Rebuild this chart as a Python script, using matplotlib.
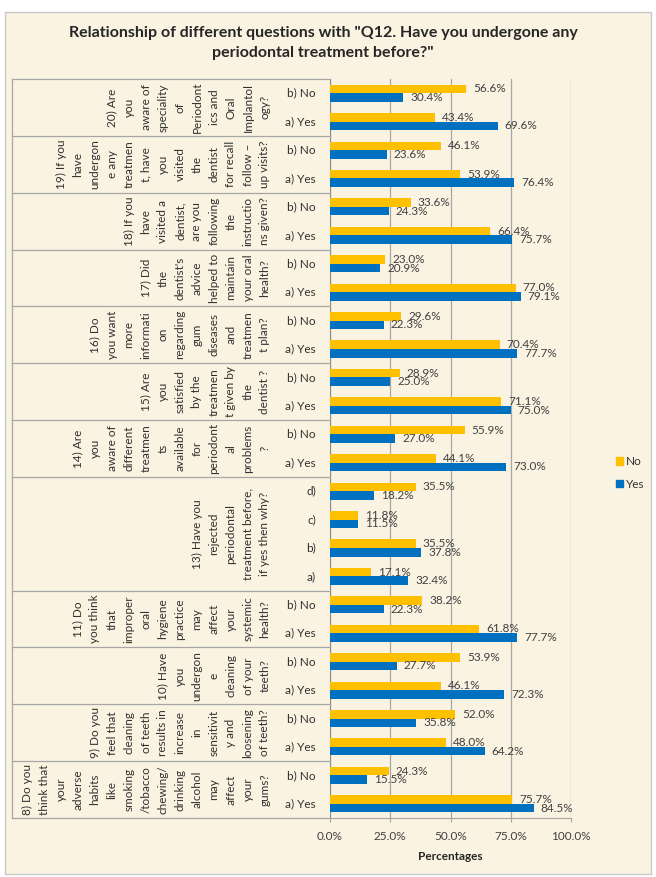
import matplotlib
matplotlib.use('Agg')
import matplotlib.pyplot as plt
from matplotlib.transforms import blended_transform_factory
from matplotlib.patches import Rectangle, Patch
from matplotlib.lines import Line2D
import numpy as np

plt.rcParams['font.family'] = ['Lato', 'DejaVu Sans']

W, H = 656, 877

# question labels, top to bottom, wrapped as in the chart
group_lines = [
    ["20) Are", "you", "aware of", "speciality", "of", "Periodont", "ics and", "Oral", "Implantol", "ogy?"],
    ["19) If you", "have", "undergon", "e any", "treatmen", "t, have", "you", "visited", "the", "dentist",
     "for recall", "follow \u2013", "up visits?"],
    ["18) If you", "have", "visited a", "dentist,", "are you", "following", "the", "instructio", "ns given?"],
    ["17) Did", "the", "dentist's", "advice", "helped to", "maintain", "your oral", "health?"],
    ["16) Do", "you want", "more", "informati", "on", "regarding", "gum", "diseases", "and", "treatmen", "t plan?"],
    ["15) Are", "you", "satisfied", "by the", "treatmen", "t given by", "the", "dentist ?"],
    ["14) Are", "you", "aware of", "different", "treatmen", "ts", "available", "for", "periodont", "al",
     "problems", "?"],
    ["13) Have you", "rejected", "periodontal", "treatment before,", "if yes then why?"],
    ["11) Do", "you think", "that", "improper", "oral", "hygiene", "practice", "may", "affect", "your",
     "systemic", "health?"],
    ["10) Have", "you", "undergon", "e", "cleaning", "of your", "teeth?"],
    ["9) Do you", "feel that", "cleaning", "of teeth", "results in", "increase", "in", "sensitivit", "y and",
     "loosening", "of teeth?"],
    ["8) Do you", "think that", "your", "adverse", "habits", "like", "smoking", "/tobacco", "chewing/",
     "drinking", "alcohol", "may", "affect", "your", "gums?"],
]
group_sizes = [2, 2, 2, 2, 2, 2, 2, 4, 2, 2, 2, 2]

subcats = ["b) No", "a) Yes"] * 7 + ["d)", "c)", "b)", "a)"] + ["b) No", "a) Yes"] * 4

no_pct = [56.6, 43.4, 46.1, 53.9, 33.6, 66.4, 23.0, 77.0, 29.6, 70.4, 28.9, 71.1, 55.9, 44.1,
          35.5, 11.8, 35.5, 17.1, 38.2, 61.8, 53.9, 46.1, 52.0, 48.0, 24.3, 75.7]
yes_pct = [30.4, 69.6, 23.6, 76.4, 24.3, 75.7, 20.9, 79.1, 22.3, 77.7, 25.0, 75.0, 27.0, 73.0,
           18.2, 11.5, 37.8, 32.4, 22.3, 77.7, 27.7, 72.3, 35.8, 64.2, 15.5, 84.5]

x_ticks = [0, 25, 50, 75, 100]

C_NO = '#FFC000'
C_YES = '#0070C0'
GRID = '#a6a6a6'
TXT = '#404040'
TBL = '#303030'


def fx(px):
    return px / W


def fy(py):
    return 1 - py / H


fig = plt.figure(figsize=(W / 100, H / 100), dpi=100, facecolor='white')

# chart area background (kept behind the axes)
fig.patches.append(Rectangle((fx(5), fy(874)), fx(646), 862 / H, transform=fig.transFigure,
                             facecolor='#faf3e2', edgecolor='#c8c8c8', lw=1, zorder=-10))

ax = fig.add_axes([fx(330), fy(818), fx(571 - 330), (818 - 79) / H])
ax.set_facecolor('none')

n = len(subcats)
ypos = n - 1 - np.arange(n)
bh = 0.3
ax.barh(ypos + bh / 2, no_pct, height=bh, color=C_NO, zorder=3)
ax.barh(ypos - bh / 2, yes_pct, height=bh, color=C_YES, zorder=3)

for y, v in zip(ypos, no_pct):
    ax.annotate(f"{v:.1f}%", (v, y + bh / 2), xytext=(5, 0), textcoords='offset points',
                va='center', ha='left', fontsize=8.5, color=TXT, zorder=4)
for y, v in zip(ypos, yes_pct):
    ax.annotate(f"{v:.1f}%", (v, y - bh / 2), xytext=(5, 0), textcoords='offset points',
                va='center', ha='left', fontsize=8.5, color=TXT, zorder=4)

ax.set_xlim(0, 100)
ax.set_ylim(-0.5, n - 0.5)
ax.set_xticks(x_ticks)
ax.set_xticklabels([f"{t:.1f}%" for t in x_ticks], fontsize=8.5, color=TXT)
ax.set_yticks([])
ax.tick_params(axis='x', length=3, color=GRID, pad=6)
ax.grid(axis='x', color=GRID, lw=0.9, zorder=0)
for s in ['top', 'right']:
    ax.spines[s].set_visible(False)
ax.spines['left'].set_color('#8c8c8c')
ax.spines['bottom'].set_color(GRID)
ax.set_xlabel("Percentages", fontsize=8.5, fontweight='bold', color='#262626', labelpad=7)

# category table on the left
tr = blended_transform_factory(fig.transFigure, ax.transData)
for y, lab in zip(ypos, subcats):
    fig.text(fx(316), y, lab, transform=tr, ha='right', va='center', fontsize=8.5, color=TBL)

bounds = [n - 0.5]
top = n - 0.5
for lines, size in zip(group_lines, group_sizes):
    yc = top - size / 2
    k = len(lines)
    for j, line in enumerate(lines):
        xc = 265 - (k - 1 - j) * 17
        fig.text(fx(xc), yc, line, transform=tr, rotation=90, ha='center', va='center',
                 fontsize=8.5, color=TBL)
    top -= size
    bounds.append(top)

for b in bounds:
    fig.add_artist(Line2D([fx(12), fx(330)], [b, b], transform=tr, color=GRID, lw=0.9))
fig.add_artist(Line2D([fx(12), fx(12)], [-0.5, n - 0.5], transform=tr, color=GRID, lw=0.9))

fig.text(fx(323), fy(33), 'Relationship of different questions with "Q12. Have you undergone any',
         ha='center', va='center', fontsize=11.5, fontweight='bold', color='#262626')
fig.text(fx(323), fy(53), 'periodontal treatment before?"',
         ha='center', va='center', fontsize=11.5, fontweight='bold', color='#262626')

handles = [Patch(color=C_NO, label='No'), Patch(color=C_YES, label='Yes')]
fig.legend(handles=handles, loc='center left', bbox_to_anchor=(fx(605), fy(473)), frameon=False,
           handlelength=0.6, handleheight=0.6, handletextpad=0.3, labelspacing=1.0,
           fontsize=8.5, labelcolor=TBL)

fig.savefig('out.png', dpi=100, facecolor='white')
